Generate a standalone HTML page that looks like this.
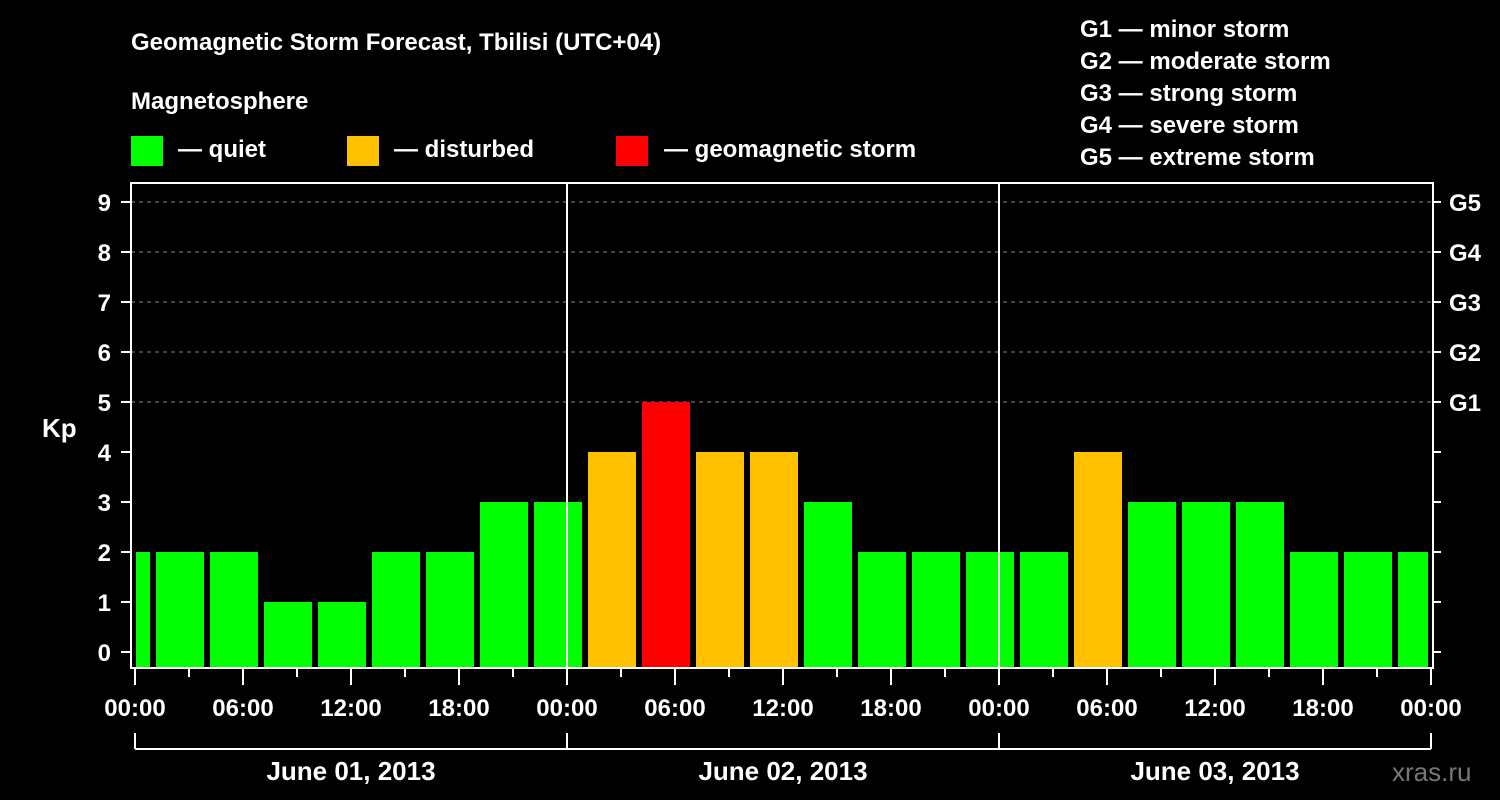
<!DOCTYPE html>
<html><head><meta charset="utf-8"><style>
body{margin:0;background:#000;}
svg{display:block;font-family:"Liberation Sans",sans-serif;font-weight:bold;}
</style></head><body>
<svg id="c" width="1500" height="800" viewBox="0 0 1500 800">
<rect width="1500" height="800" fill="#000"/>
<text x="131" y="50" fill="#fff" font-size="24">Geomagnetic Storm Forecast, Tbilisi (UTC+04)</text>
<text x="131" y="109" fill="#fff" font-size="24">Magnetosphere</text>
<g><rect x="131" y="136" width="32" height="30" fill="#00ff00"/><text x="178" y="157" fill="#fff" font-size="24">— quiet</text></g>
<g><rect x="347" y="136" width="32" height="30" fill="#ffc000"/><text x="394" y="157" fill="#fff" font-size="24">— disturbed</text></g>
<g><rect x="616" y="136" width="32" height="30" fill="#ff0000"/><text x="664" y="157" fill="#fff" font-size="24">— geomagnetic storm</text></g>
<g fill="#fff" font-size="24">
<text x="1080" y="37">G1 — minor storm</text>
<text x="1080" y="69">G2 — moderate storm</text>
<text x="1080" y="101">G3 — strong storm</text>
<text x="1080" y="133">G4 — severe storm</text>
<text x="1080" y="165">G5 — extreme storm</text>
</g>
<text x="42" y="437" fill="#fff" font-size="26">Kp</text>
<text x="1392" y="781" fill="#777" font-size="26" font-weight="normal">xras.ru</text>
<g id="grid"></g><g id="bars"></g><g id="axes"></g>
</svg>
<script>
const values=[2,2,2,1,1,2,2,3,3,4,5,4,4,3,2,2,2,2,4,3,3,3,2,2,2];
const yTicks=[0,1,2,3,4,5,6,7,8,9];
const gLabels=["G1","G2","G3","G4","G5"];
const dayLabels=["June 01, 2013","June 02, 2013","June 03, 2013"];
const hourLabels=["00:00","06:00","12:00","18:00"];
const firstBarHour=-0.5;
const NS="http://www.w3.org/2000/svg";
const L=131,R=1433,T=183,B=668,X0=135,PXH=18;
const xs=h=>X0+h*PXH;
const ys=k=>652-k*50;
function mk(t,a,p){const e=document.createElementNS(NS,t);for(const k in a)e.setAttribute(k,a[k]);p.appendChild(e);return e;}
const grid=document.getElementById('grid'),bars=document.getElementById('bars'),axes=document.getElementById('axes');
function col(v){return v>=5?"#ff0000":v>=4?"#ffc000":"#00ff00";}
[5,6,7,8,9].forEach(k=>{const l=mk('line',{x1:L,x2:R,y1:ys(k),y2:ys(k),stroke:"#888","stroke-dasharray":"4,4"},grid);

});
values.forEach((v,i)=>{const c=firstBarHour+3*i;let x1=xs(c)-24,x2=xs(c)+24;x1=Math.max(x1,L+5);x2=Math.min(x2,R-5);
const r=mk('rect',{x:x1,y:ys(v),width:x2-x1,height:B-1-ys(v),fill:col(v)},bars);

});
const fr=mk('rect',{x:L,y:T,width:R-L,height:B-T,fill:"none",stroke:"#fff","stroke-width":2},axes);


yTicks.forEach(k=>{mk('line',{x1:121,x2:L,y1:ys(k),y2:ys(k),stroke:"#fff","stroke-width":2},axes);
mk('line',{x1:R,x2:1441,y1:ys(k),y2:ys(k),stroke:"#fff","stroke-width":2},axes);
const t=mk('text',{x:111,y:ys(k)+9,fill:"#fff","font-size":24,"text-anchor":"end"},axes);t.textContent=k;

});
gLabels.forEach((g,i)=>{const t=mk('text',{x:1449,y:ys(5+i)+9,fill:"#fff","font-size":24},axes);t.textContent=g;

});
for(let d=1;d<3;d++){mk('line',{x1:xs(24*d),x2:xs(24*d),y1:T,y2:B,stroke:"#fff","stroke-width":2},axes);}
for(let h=0;h<=72;h+=3){const x=xs(h);mk('line',{x1:x,x2:x,y1:B,y2:h%6==0?685:677,stroke:"#fff","stroke-width":2},axes);
if(h%6==0){const t=mk('text',{x:x,y:716,fill:"#fff","font-size":24,"text-anchor":"middle"},axes);t.textContent=hourLabels[(h/6)%4];

}}
mk('line',{x1:xs(0),x2:xs(72),y1:749,y2:749,stroke:"#fff","stroke-width":2},axes);
for(let d=0;d<=3;d++)mk('line',{x1:xs(24*d),x2:xs(24*d),y1:733,y2:749,stroke:"#fff","stroke-width":2},axes);
dayLabels.forEach((s,i)=>{const t=mk('text',{x:xs(24*i+12),y:780,fill:"#fff","font-size":26,"text-anchor":"middle"},axes);t.textContent=s;

});
</script>
</body></html>
